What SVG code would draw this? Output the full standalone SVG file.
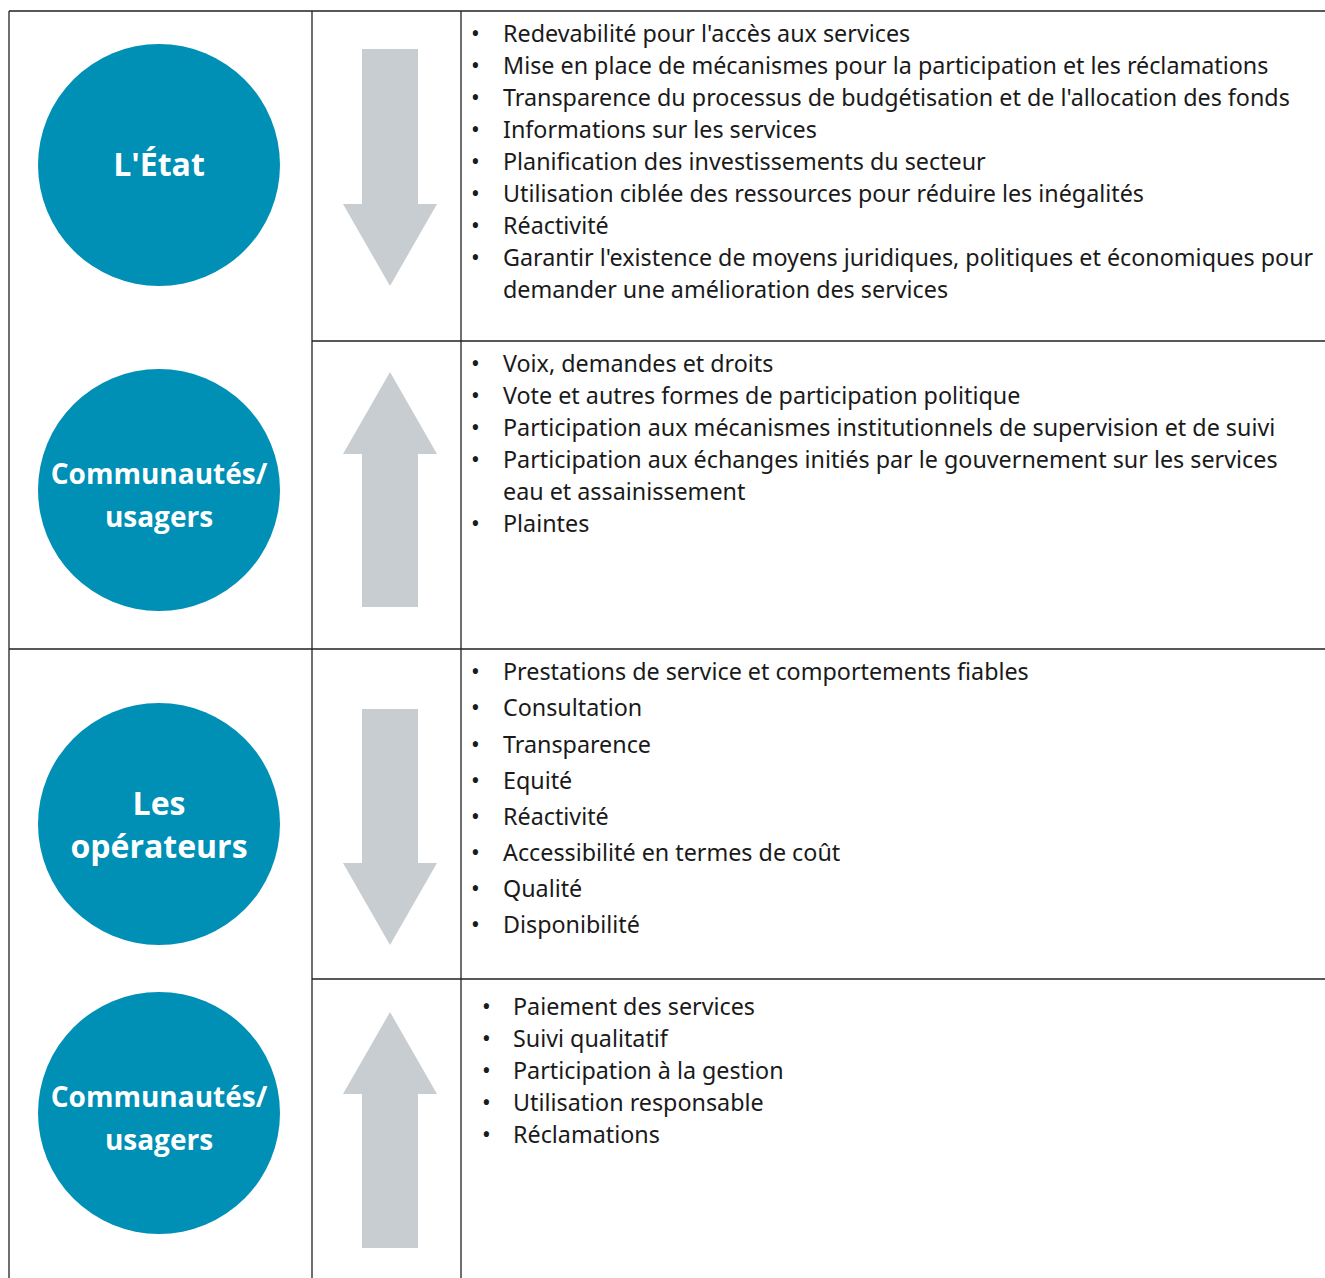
<svg xmlns="http://www.w3.org/2000/svg" width="1325" height="1278" viewBox="0 0 1325 1278">
<style>
.ln{stroke:#222;stroke-width:1.3;fill:none}
.c{fill:#008fb5}
.ct{font-family:"Open Sans","Noto Sans",sans-serif;font-weight:bold;fill:#fff;text-anchor:middle}
.ar{fill:#c8cdd1}
.t{font-family:"Noto Sans","Open Sans",sans-serif;font-size:23.3px;fill:#1a1a1a}
</style>
<rect width="1325" height="1278" fill="#fff"/>
<g id="connectors">
<path class="ln" d="M9 11H1325M9 11V1278M312 11V1278M461 11V1278M312 341H1325M9 649H1325M312 979H1325"/>
</g>
<g id="node-etat"><circle class="c" cx="159" cy="165" r="121"/><text class="ct" x="159" y="176" font-size="32">L'État</text></g>
<g id="node-communautes1"><circle class="c" cx="159" cy="490" r="121"/><text class="ct" x="159" y="484" font-size="28">Communautés/</text><text class="ct" x="159" y="527" font-size="28">usagers</text></g>
<g id="node-operateurs"><circle class="c" cx="159" cy="824" r="121"/><text class="ct" x="159" y="815" font-size="32">Les</text><text class="ct" x="159" y="858" font-size="32">opérateurs</text></g>
<g id="node-communautes2"><circle class="c" cx="159" cy="1113" r="121"/><text class="ct" x="159" y="1107" font-size="28">Communautés/</text><text class="ct" x="159" y="1150" font-size="28">usagers</text></g>
<g id="arrow1"><path class="ar" d="M362 49H418V204H437L390 286L343 204H362Z"/></g>
<g id="arrow2"><path class="ar" d="M362 607H418V454H437L390 372L343 454H362Z"/></g>
<g id="arrow3"><path class="ar" d="M362 709H418V863H437L390 945L343 863H362Z"/></g>
<g id="arrow4"><path class="ar" d="M362 1248H418V1094H437L390 1012L343 1094H362Z"/></g>
<g id="list1" class="t">
<text x="471" y="42">•</text><text x="503" y="42">Redevabilité pour l'accès aux services</text>
<text x="471" y="74">•</text><text x="503" y="74">Mise en place de mécanismes pour la participation et les réclamations</text>
<text x="471" y="106">•</text><text x="503" y="106">Transparence du processus de budgétisation et de l'allocation des fonds</text>
<text x="471" y="138">•</text><text x="503" y="138">Informations sur les services</text>
<text x="471" y="170">•</text><text x="503" y="170">Planification des investissements du secteur</text>
<text x="471" y="202">•</text><text x="503" y="202">Utilisation ciblée des ressources pour réduire les inégalités</text>
<text x="471" y="234">•</text><text x="503" y="234">Réactivité</text>
<text x="471" y="266">•</text><text x="503" y="266">Garantir l'existence de moyens juridiques, politiques et économiques pour</text>
<text x="503" y="298">demander une amélioration des services</text>
</g>
<g id="list2" class="t">
<text x="471" y="372">•</text><text x="503" y="372">Voix, demandes et droits</text>
<text x="471" y="404">•</text><text x="503" y="404">Vote et autres formes de participation politique</text>
<text x="471" y="436">•</text><text x="503" y="436">Participation aux mécanismes institutionnels de supervision et de suivi</text>
<text x="471" y="468">•</text><text x="503" y="468">Participation aux échanges initiés par le gouvernement sur les services</text>
<text x="503" y="500">eau et assainissement</text>
<text x="471" y="532">•</text><text x="503" y="532">Plaintes</text>
</g>
<g id="list3" class="t">
<text x="471" y="680">•</text><text x="503" y="680">Prestations de service et comportements fiables</text>
<text x="471" y="716">•</text><text x="503" y="716">Consultation</text>
<text x="471" y="753">•</text><text x="503" y="753">Transparence</text>
<text x="471" y="789">•</text><text x="503" y="789">Equité</text>
<text x="471" y="825">•</text><text x="503" y="825">Réactivité</text>
<text x="471" y="861">•</text><text x="503" y="861">Accessibilité en termes de coût</text>
<text x="471" y="897">•</text><text x="503" y="897">Qualité</text>
<text x="471" y="933">•</text><text x="503" y="933">Disponibilité</text>
</g>
<g id="list4" class="t">
<text x="482" y="1015">•</text><text x="513" y="1015">Paiement des services</text>
<text x="482" y="1047">•</text><text x="513" y="1047">Suivi qualitatif</text>
<text x="482" y="1079">•</text><text x="513" y="1079">Participation à la gestion</text>
<text x="482" y="1111">•</text><text x="513" y="1111">Utilisation responsable</text>
<text x="482" y="1143">•</text><text x="513" y="1143">Réclamations</text>
</g>
</svg>
